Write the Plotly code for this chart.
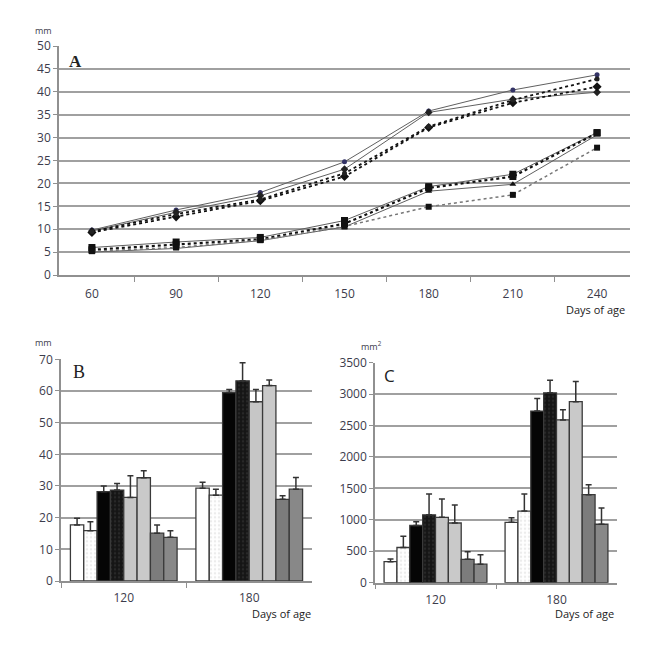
import plotly.graph_objects as go

W, H = 653, 650
OFF = 8  # page body margin offset

# ---------------- Panel A data ----------------
days_a = ["60", "90", "120", "150", "180", "210", "240"]
a_up1 = [9.8, 14.2, 18.0, 24.7, 35.8, 40.4, 43.7]
a_up2 = [9.6, 13.7, 17.3, 23.1, 35.5, 38.4, 39.9]
a_up3 = [9.3, 12.7, 16.2, 21.5, 32.2, 37.6, 41.1]
a_up4 = [9.5, 13.3, 16.5, 22.2, 32.4, 38.2, 42.8]
a_lo1 = [6.0, 7.2, 8.2, 11.9, 19.3, 22.0, 31.1]
a_lo2 = [5.0, 5.8, 7.5, 10.5, 18.3, 19.8, 30.6]
a_lo3 = [5.5, 6.6, 7.8, 11.2, 19.0, 21.5, 31.0]
a_lo4 = [5.2, 6.0, 7.6, 10.6, 14.9, 17.5, 27.8]

# ---------------- Panel B / C data ----------------
days_bc = ["120", "180"]
groups = ["G1", "G2", "G3", "G4", "G5", "G6", "G7", "G8"]
b_mean = [[17.7, 29.3], [15.9, 27.1], [28.2, 59.5], [28.7, 63.2],
          [26.4, 56.6], [32.6, 61.7], [15.1, 25.8], [13.8, 29.0]]
b_sd = [[2.1, 1.9], [2.8, 1.9], [1.8, 1.0], [2.1, 5.7],
        [6.8, 3.9], [2.2, 1.8], [2.6, 1.1], [2.1, 3.7]]
c_mean = [[334, 960], [560, 1140], [910, 2730], [1080, 3020],
          [1040, 2590], [950, 2880], [372, 1400], [295, 930]]
c_sd = [[45, 75], [180, 270], [60, 200], [330, 200],
        [290, 160], [285, 320], [120, 160], [150, 260]]

bar_fill = ["#ffffff", "#ffffff", "#050505", "#151515",
            "#c6c6c6", "#c9c9c9", "#7c7c7c", "#888888"]
bar_pattern = ["", ".", "", ".", "", "", "", ""]
pattern_fg = ["#ffffff", "#d8d8d8", "#000000", "#3a3a3a",
              "#c6c6c6", "#c9c9c9", "#7c7c7c", "#888888"]

fig = go.Figure()

# ----- Panel A lines -----
line_specs = [
    (a_up1, "solid", "#606060", 1, "circle", 5, "#333366"),
    (a_up2, "solid", "#606060", 1, "diamond", 6, "#222222"),
    (a_up3, "dot", "#111111", 1.8, "diamond", 7, "#111111"),
    (a_up4, "dot", "#111111", 1.8, "circle", 5, "#222222"),
    (a_lo1, "solid", "#606060", 1, "square", 7, "#111111"),
    (a_lo2, "solid", "#606060", 1, "triangle-up", 6, "#111111"),
    (a_lo3, "dot", "#111111", 2.2, "square", 7, "#111111"),
    (a_lo4, "dot", "#777777", 1.5, "square", 6, "#111111"),
]
for i, (vals, dash, lc, lw, sym, ms, mc) in enumerate(line_specs):
    fig.add_trace(go.Scatter(
        x=days_a, y=vals, mode="lines+markers", xaxis="x", yaxis="y",
        line=dict(color=lc, width=lw, dash=dash),
        marker=dict(symbol=sym, size=ms, color=mc),
        showlegend=False, name=f"S{i+1}"))

# ----- Panel B & C bars -----
for ax, means, sds in (("2", b_mean, b_sd), ("3", c_mean, c_sd)):
    for g in range(8):
        fig.add_trace(go.Bar(
            x=days_bc, y=means[g], xaxis="x" + ax, yaxis="y" + ax,
            name=groups[g], showlegend=False,
            marker=dict(color=bar_fill[g],
                        line=dict(color="#3a3a3a", width=1.3),
                        pattern=dict(shape=bar_pattern[g], fgcolor=pattern_fg[g],
                                     bgcolor=bar_fill[g], size=4, solidity=0.3)),
            error_y=dict(type="data", symmetric=False, array=sds[g],
                         arrayminus=[0, 0], color="#333333", thickness=1.5, width=3),
        ))

tickfont = dict(family="Open Sans, sans-serif", size=12, color="#3c3c4c")
grid = "#a0a0a0"


def px_x(p):
    return (p - OFF) / W


def px_y(p):
    return 1 - (p - OFF) / H


def xax(l, r, anchor, standoff):
    return dict(domain=[px_x(l), px_x(r)], anchor=anchor, type="category", showgrid=False,
                showline=True, linecolor="#909090", linewidth=1.5,
                ticks="outside", tickson="boundaries", ticklen=5,
                tickcolor="#909090", tickfont=tickfont, fixedrange=True,
                ticklabelstandoff=standoff, automargin=False)


def yax(bottom, top, anchor, rng, dt):
    return dict(domain=[px_y(bottom), px_y(top)], anchor=anchor, range=rng, dtick=dt,
                showgrid=True, gridcolor=grid, gridwidth=1.5,
                showline=True, linecolor="#909090", linewidth=1.5,
                ticks="outside", ticklen=4, tickcolor="#909090",
                tickfont=tickfont, zeroline=False, fixedrange=True,
                automargin=False)


fig.update_layout(
    width=W, height=H, margin=dict(l=0, r=0, t=0, b=0, autoexpand=False),
    paper_bgcolor="white", plot_bgcolor="white",
    barmode="group", bargap=0.15, bargroupgap=0,
    xaxis=xax(59, 630, "y", 7),
    yaxis=yax(275, 46, "x", [0, 50], 5),
    xaxis2=xax(61, 312, "y2", 5),
    yaxis2=yax(581, 359.3, "x2", [0, 70], 10),
    xaxis3=xax(375, 617, "y3", 5),
    yaxis3=yax(582.7, 362.7, "x3", [0, 3500], 500),
)

small = dict(family="Open Sans, sans-serif", size=9, color="#3c3c4c")
lab = dict(family="Open Sans, sans-serif", size=11, color="#222222")


def ann(text, px, py, font, xanchor="center"):
    fig.add_annotation(text=text, x=px_x(px), y=px_y(py), xref="paper", yref="paper",
                       showarrow=False, font=font, xanchor=xanchor, yanchor="middle")


ann("mm", 43, 31, small)
ann("mm", 43, 343, small)
ann("mm<sup>2</sup>", 371, 346, small)
ann("Days of age", 627, 309, lab, "right")
ann("Days of age", 313, 613, lab, "right")
ann("Days of age", 616, 613, lab, "right")
ann("<b>A</b>", 75, 61, dict(family="Liberation Serif, serif", size=17, color="#222222"))
ann("B", 79, 372, dict(family="Liberation Serif, serif", size=18, color="#222222"))
ann("C", 389, 375, dict(family="Open Sans, sans-serif", size=17, color="#222222"))

fig.write_html("out.html")
